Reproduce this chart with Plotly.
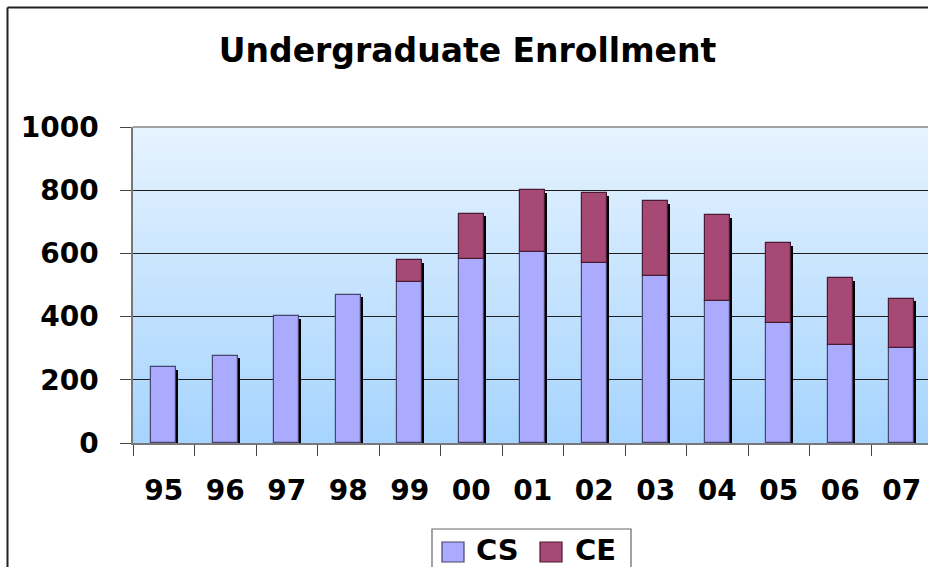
import plotly.graph_objects as go

# ---- data ----
years = ["95", "96", "97", "98", "99", "00", "01", "02", "03", "04", "05", "06", "07"]
cs_values = [240, 276, 402, 469, 508, 583, 605, 569, 528, 448, 381, 309, 300]
ce_values = [0, 0, 0, 0, 70, 142, 195, 221, 237, 272, 251, 212, 156]
series_names = ["CS", "CE"]
y_tick_values = [0, 200, 400, 600, 800, 1000]
title_text = "Undergraduate Enrollment"

# ---- style ----
W, H = 928, 567
ML, MR, MT, MB = 133, 0, 127, 124
PW, PH = W - ML - MR, H - MT - MB
CS_COLOR = "#AAAAFF"
CE_COLOR = "#A64A75"
FONT = "DejaVu Sans, Liberation Sans, Arial, sans-serif"
BAR_W = 0.40
CAT_PX = 61.5


def px_x(px):
    return (px - ML) / PW


def px_y(py):
    return (H - MB - py) / PH


totals = [a + b for a, b in zip(cs_values, ce_values)]
ce_plot = [v if v > 0 else None for v in ce_values]
ce_base = [c if v > 0 else None for c, v in zip(cs_values, ce_values)]

fig = go.Figure()

# shadow (drawn behind bars)
fig.add_trace(go.Bar(
    x=years, y=[t - 8 for t in totals], base=[0] * len(years),
    width=BAR_W, offset=-BAR_W / 2 + 2.2 / CAT_PX,
    marker=dict(color="#000000", line=dict(width=0)),
    showlegend=False, hoverinfo="skip"))

fig.add_trace(go.Bar(
    x=years, y=cs_values, base=[0] * len(years), name=series_names[0],
    width=BAR_W, offset=-BAR_W / 2,
    marker=dict(color=CS_COLOR, line=dict(color="#45456e", width=1.2)),
    showlegend=False))

fig.add_trace(go.Bar(
    x=years, y=ce_plot, base=ce_base, name=series_names[1],
    width=BAR_W, offset=-BAR_W / 2,
    marker=dict(color=CE_COLOR, line=dict(color="#4a1a32", width=1.2)),
    showlegend=False))

shapes = []
# gradient background of plot area
top_rgb = (230, 243, 255)
bot_rgb = (166, 212, 254)
N = 80
for i in range(N):
    t = (i + 0.5) / N
    c = tuple(round(bot_rgb[k] + (top_rgb[k] - bot_rgb[k]) * t) for k in range(3))
    shapes.append(dict(type="rect", xref="x domain", yref="y domain",
                       x0=0, x1=1, y0=i / N, y1=(i + 1) / N + 0.002,
                       fillcolor="rgb(%d,%d,%d)" % c, line=dict(width=0),
                       layer="below"))
# plot top border (gray)
shapes.append(dict(type="line", xref="x domain", yref="y domain",
                   x0=0, x1=1, y0=1, y1=1, line=dict(color="#888888", width=1.5),
                   layer="above"))
# outer chart border (left and top visible)
shapes.append(dict(type="line", xref="paper", yref="paper",
                   x0=px_x(7.5), x1=px_x(7.5), y0=px_y(7.5), y1=px_y(600),
                   line=dict(color="#222222", width=2)))
shapes.append(dict(type="line", xref="paper", yref="paper",
                   x0=px_x(7.5), x1=px_x(960), y0=px_y(7.5), y1=px_y(7.5),
                   line=dict(color="#222222", width=2)))

# custom legend
shapes.append(dict(type="rect", xref="paper", yref="paper",
                   x0=px_x(432), x1=px_x(631), y0=px_y(529), y1=px_y(600),
                   fillcolor="white", line=dict(color="#666666", width=1.2)))
legend_items = [
    (series_names[0], CS_COLOR, "#45456e", 442, 475),
    (series_names[1], CE_COLOR, "#4a1a32", 540, 574),
]
annotations = []
for name, col, lc, sx, tx in legend_items:
    shapes.append(dict(type="rect", xref="paper", yref="paper",
                       x0=px_x(sx), x1=px_x(sx + 22), y0=px_y(542), y1=px_y(562),
                       fillcolor=col, line=dict(color=lc, width=1.2)))
    annotations.append(dict(text=name, xref="paper", yref="paper",
                            x=px_x(tx - 1), y=px_y(550), xanchor="left", yanchor="middle",
                            showarrow=False,
                            font=dict(family=FONT, size=29, color="black", weight="bold")))

fig.update_layout(
    width=W, height=H,
    margin=dict(l=ML, r=MR, t=MT, b=MB, pad=0),
    paper_bgcolor="white", plot_bgcolor="#cfe6ff",
    barmode="overlay", bargap=0,
    showlegend=False,
    title=dict(text=title_text, x=467.5 / W, xanchor="center",
               y=1 - 50 / H, yanchor="middle",
               font=dict(family=FONT, size=33, color="black", weight="bold")),
    shapes=shapes, annotations=annotations,
    xaxis=dict(type="category", range=[-0.5, -0.5 + PW / CAT_PX],
               showgrid=False, zeroline=False,
               showline=True, linecolor="#777777", linewidth=1.5,
               ticks="outside", ticklen=11, tickcolor="#444444", tickwidth=1.2,
               tickson="boundaries", ticklabelstandoff=22,
               tickfont=dict(family=FONT, size=28, color="black", weight="bold")),
    yaxis=dict(range=[0, 1000], tickvals=y_tick_values,
               showgrid=True, gridcolor="#1e1e1e", gridwidth=1,
               zeroline=False, showline=True, linecolor="#777777", linewidth=1.5,
               ticks="outside", ticklen=11, tickcolor="#444444", tickwidth=1.2,
               ticklabelstandoff=16,
               tickfont=dict(family=FONT, size=28, color="black", weight="bold")),
)

fig.write_html("out.html", config={"displayModeBar": False},
               post_script="document.body.style.margin='0';document.body.style.overflow='hidden';")
